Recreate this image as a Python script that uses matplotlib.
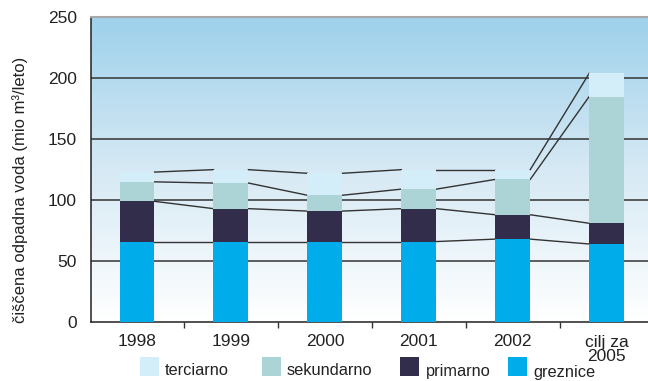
import numpy as np
import matplotlib
matplotlib.use("Agg")
import matplotlib.pyplot as plt
from matplotlib.colors import LinearSegmentedColormap
from matplotlib.patches import Rectangle

plt.rcParams['font.family'] = ['Liberation Sans', 'DejaVu Sans']

categories = ["1998", "1999", "2000", "2001", "2002", "cilj za\n2005"]
greznice = [66, 66, 66, 66, 68, 64]
primarno = [33, 27, 25, 27, 20, 17]
sekundarno = [16, 21, 13, 16, 29, 104]
terciarno = [8, 11, 18, 16, 8, 19]

series = [
    ("greznice", greznice, "#00adea"),
    ("primarno", primarno, "#322d4a"),
    ("sekundarno", sekundarno, "#acd3d5"),
    ("terciarno", terciarno, "#d3edf9"),
]

W, H = 648, 381
fig = plt.figure(figsize=(W / 100, H / 100), dpi=100)
ax = fig.add_axes([91 / W, 1 - 322 / H, 1 - 91 / W, (322 - 17.3) / H])

x = np.arange(len(categories))
width = 0.372
ax.set_xlim(-0.49, 5.44)
ax.set_ylim(0, 250)

# vertical gradient background
grad = np.linspace(0, 1, 256).reshape(-1, 1)
cmap = LinearSegmentedColormap.from_list("bg", ["#ffffff", "#d6e9f4", "#9ed1eb"])
ax.imshow(grad, aspect="auto", cmap=cmap, origin="lower",
          extent=[-0.49, 5.44, 0, 250], zorder=0)

for yv in [50, 100, 150, 200]:
    ax.axhline(yv, color="#333333", lw=1.1, zorder=1)

bottom = np.zeros(len(categories))
for name, vals, col in series:
    vals = np.array(vals, dtype=float)
    ax.bar(x, vals, width, bottom=bottom, color=col, zorder=3, label=name)
    top = bottom + vals
    # connector lines between neighbouring bars
    for i in range(len(x) - 1):
        ax.plot([x[i] + width / 2, x[i + 1] - width / 2], [top[i], top[i + 1]],
                color="#333333", lw=1.0, zorder=2)
    bottom = top

ax.set_yticks([0, 50, 100, 150, 200, 250])
ax.tick_params(axis="y", length=0, pad=10, labelsize=12.5, colors="#222222")
ax.set_xticks(x)
ax.set_xticklabels(categories, fontsize=12.5, color="#222222", linespacing=0.95)
ax.set_xticks(np.arange(0.5, 5, 1), minor=True)
ax.tick_params(axis="x", which="major", length=0, pad=9)
ax.tick_params(axis="x", which="minor", length=4, width=1, color="#333333")

ax.spines["right"].set_visible(False)
ax.spines["top"].set_color("#a8a8a8")
ax.spines["top"].set_linewidth(1.5)
ax.spines["left"].set_color("#222222")
ax.spines["bottom"].set_color("#222222")
ax.spines["left"].set_linewidth(1.1)
ax.spines["bottom"].set_linewidth(1.1)

fig.text(20 / W, 1 - 190 / H, "čiščena odpadna voda (mio m³/leto)",
         rotation=90, ha="center", va="center", fontsize=12, color="#222222")

# legend row below the axes
legend_items = [("terciarno", 140, 165, 375), ("sekundarno", 262, 287, 375),
                ("primarno", 400, 426, 376), ("greznice", 508, 533, 377)]
colors = {n: c for n, _, c in series}
for name, px, tx, base in legend_items:
    fig.patches.append(Rectangle((px / W, 1 - 376 / H), 19 / W, 19 / H,
                                 transform=fig.transFigure, facecolor=colors[name],
                                 edgecolor="none"))
    fig.text(tx / W, 1 - base / H, name, ha="left", va="baseline",
             fontsize=11.8, color="#222222")

fig.savefig("out.png", dpi=100)
